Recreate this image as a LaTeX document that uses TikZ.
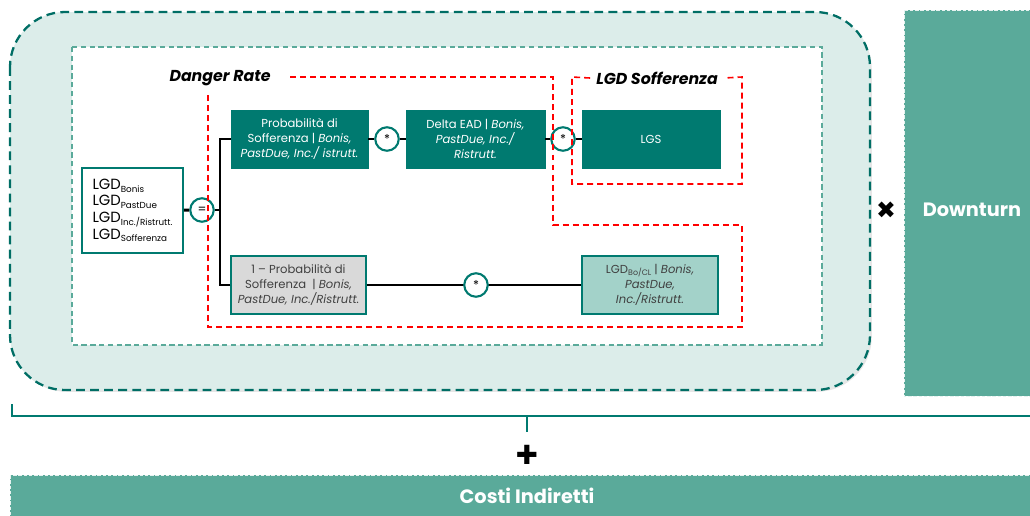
\documentclass[tikz,border=0pt]{standalone}
\usepackage{fontspec}
\setmainfont{Poppins}
\newfontfamily\symfont{DejaVu Sans}
\usetikzlibrary{shadows}

\definecolor{tealdark}{RGB}{0,122,112}
\definecolor{tealmid}{RGB}{90,170,154}
\definecolor{teallight}{RGB}{163,210,201}
\definecolor{tealpale}{RGB}{220,237,234}
\definecolor{greybox}{RGB}{217,217,217}
\definecolor{greytext}{RGB}{64,64,64}

\newcommand{\lsub}[1]{\raisebox{-0.35ex}{\fontsize{5}{5}\selectfont #1}}

\begin{document}
\begin{tikzpicture}[x=0.02cm,y=-0.02cm,
	box/.style={draw=tealdark,fill=tealdark,text=white,align=center,inner sep=1pt,
		minimum height=1.16cm,font=\fontsize{6.6}{8.4}\selectfont,
		drop shadow={opacity=0.25,shadow xshift=0.8pt,shadow yshift=-0.8pt}},
	op/.style={circle,draw=tealdark,fill=white,line width=1.2pt,minimum size=0.47cm,inner sep=0pt,font=\fontsize{7}{7}\selectfont},
	link/.style={line width=1.6pt,black},
	reddash/.style={red,line width=0.9pt,dash pattern=on 3.4pt off 2.3pt},
	label/.style={font=\fontsize{9}{9}\selectfont\bfseries\itshape},
	band/.style={fill=tealmid,draw=white!85!tealmid,line width=0.5pt,dash pattern=on 2pt off 1pt}]
	\useasboundingbox (0,0) rectangle (1030,515);

	% outer area and inner frame
	\draw[fill=tealpale,draw=tealdark!90!black,line width=1.3pt,dash pattern=on 5pt off 3pt,rounded corners=1.1cm,
		drop shadow={opacity=0.2,shadow xshift=1pt,shadow yshift=-1pt}] (10,12) rectangle (870,390);
	\draw[fill=white,draw=tealmid,line width=0.7pt,dash pattern=on 3pt off 2pt] (72,47) rectangle (822,345);

	% boxes
	\node[draw=tealdark,fill=white,line width=1pt,minimum width=2.02cm,minimum height=1.7cm,align=left,inner sep=2pt,
		font=\fontsize{8.4}{9.4}\selectfont,
		drop shadow={opacity=0.25,shadow xshift=0.8pt,shadow yshift=-0.8pt}] (lgd) at (132.5,210.5)
		{LGD\lsub{Bonis}\\LGD\lsub{PastDue}\\LGD\lsub{Inc./Ristrutt.}\\LGD\lsub{Sofferenza}};
	\node[box,minimum width=2.74cm] (pds) at (299.5,139) {Probabilità di\\Sofferenza | \textit{Bonis,}\\\textit{PastDue, Inc./ istrutt.}};
	\node[box,minimum width=2.78cm] (dead) at (475.5,139) {Delta EAD | \textit{Bonis,}\\\textit{PastDue, Inc./}\\\textit{Ristrutt.}};
	\node[box,minimum width=2.76cm] (lgs) at (651,139) {LGS};
	\node[box,fill=greybox,text=greytext,line width=0.8pt,minimum width=2.7cm] (npd) at (298.5,285) {1 – Probabilità di\\Sofferenza~~| \textit{Bonis,}\\\textit{PastDue, Inc./Ristrutt.}};
	\node[box,fill=teallight,text=greytext,line width=0.8pt,minimum width=2.72cm] (lgdbo) at (650,285) {LGD\raisebox{-0.3ex}{\fontsize{4.5}{4.5}\selectfont Bo/CL} | \textit{Bonis,}\\\textit{PastDue,}\\\textit{Inc./Ristrutt.}};

	% operators
	\node[op] (eq) at (202,210) {=};
	\node[op] (m1) at (387,139) {*};
	\node[op] (m2) at (563,139) {*};
	\coordinate (fork) at (220,210);

	\draw[link] (lgd) -- (eq);
	\draw[link] (eq) -- (fork);
	\draw[link] (pds.west) -| (fork);
	\draw[link] (npd.west) -| (fork);
	\draw[link] (pds) -- (m1);
	\draw[link] (m1) -- (dead);
	\draw[link] (dead) -- (m2);
	\draw[link] (m2) -- (lgs);
	\draw[black,line width=1.1pt] (npd) -- (lgdbo);
	\node[op] (m3) at (476,285) {*};

	% labels and red frames
	\node[label] (danger) at (220,78) {Danger Rate};
	\node[label] (soff) at (657,78) {LGD Sofferenza};
	\draw[reddash] (290,77) -- (553,77) -- (553,225) -- (742,225) -- (742,327) -- (208,327) -- (208,93);
	\draw[reddash] (soff.west) -- (572,77) -- (572,184) -- (742,184) -- (742,77) -- (soff.east);

	% downturn and indirect costs
	\draw[band] (904,10) rectangle (1034,396);
	\node[text=white,font=\fontsize{11}{11}\selectfont\bfseries] (down) at (972,210) {Downturn};
	\node[font=\symfont\fontsize{13.5}{13.5}\selectfont] (times) at (886,210) {✖};
	\draw[tealdark,line width=1.5pt] (12,404) -- (12,416) -- (1034,416);
	\draw[tealdark,line width=1.5pt] (527,416) -- (527,432);
	\node[font=\symfont\fontsize{15}{15}\selectfont] (plus) at (527,455) {✚};
	\draw[band] (10,475) rectangle (1034,519);
	\node[text=white,font=\fontsize{11}{11}\selectfont\bfseries] (costi) at (527,496) {Costi Indiretti};
\end{tikzpicture}
\end{document}
